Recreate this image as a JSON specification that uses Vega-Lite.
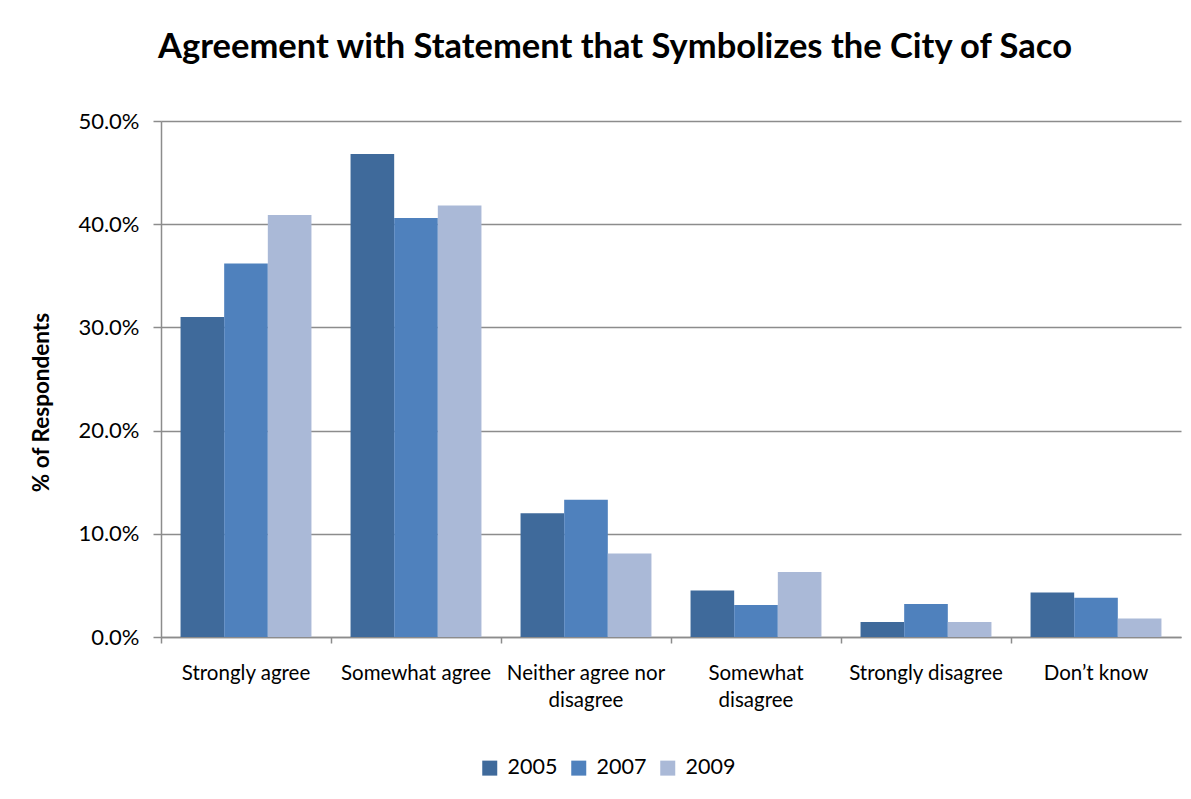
{
  "$schema": "https://vega.github.io/schema/vega-lite/v6.json",
  "autosize": "none",
  "width": 1020,
  "height": 516,
  "padding": {"left": 161, "top": 121, "right": 10, "bottom": 162},
  "background": "white",
  "title": {
    "text": "Agreement with Statement that Symbolizes the City of Saco",
    "font": "Lato",
    "fontSize": 34.5,
    "fontWeight": "bold",
    "color": "black",
    "anchor": "middle",
    "dx": -56,
    "offset": 45
  },
  "data": {
    "values": [
      {"response": "Strongly agree", "year": "2005", "pct": 0.310},
      {"response": "Strongly agree", "year": "2007", "pct": 0.362},
      {"response": "Strongly agree", "year": "2009", "pct": 0.409},
      {"response": "Somewhat agree", "year": "2005", "pct": 0.468},
      {"response": "Somewhat agree", "year": "2007", "pct": 0.406},
      {"response": "Somewhat agree", "year": "2009", "pct": 0.418},
      {"response": "Neither agree nor disagree", "year": "2005", "pct": 0.120},
      {"response": "Neither agree nor disagree", "year": "2007", "pct": 0.133},
      {"response": "Neither agree nor disagree", "year": "2009", "pct": 0.081},
      {"response": "Somewhat disagree", "year": "2005", "pct": 0.045},
      {"response": "Somewhat disagree", "year": "2007", "pct": 0.031},
      {"response": "Somewhat disagree", "year": "2009", "pct": 0.063},
      {"response": "Strongly disagree", "year": "2005", "pct": 0.0145},
      {"response": "Strongly disagree", "year": "2007", "pct": 0.032},
      {"response": "Strongly disagree", "year": "2009", "pct": 0.0145},
      {"response": "Don’t know", "year": "2005", "pct": 0.043},
      {"response": "Don’t know", "year": "2007", "pct": 0.038},
      {"response": "Don’t know", "year": "2009", "pct": 0.018}
    ]
  },
  "config": {
    "view": {"stroke": null},
    "axis": {"labelFont": "Lato", "titleFont": "Lato", "labelColor": "black", "titleColor": "black"}
  },
  "layer": [
    {
      "mark": {"type": "bar"},
      "encoding": {
        "x": {
          "field": "response",
          "type": "nominal",
          "sort": null,
          "scale": {"paddingInner": 0.23, "paddingOuter": 0.115},
          "axis": {
            "title": null,
            "labelAngle": 0,
            "labelFontSize": 20.5,
            "labelPadding": 36,
            "labelBaseline": "middle",
            "labelLineHeight": 27,
            "ticks": false,
            "domainColor": "#8c8c8c",
            "domainWidth": 1.5,
            "labelLimit": 220,
            "labelExpr": "datum.label == 'Neither agree nor disagree' ? ['Neither agree nor', 'disagree'] : datum.label == 'Somewhat disagree' ? ['Somewhat', 'disagree'] : datum.label"
          }
        },
        "xOffset": {"field": "year", "type": "nominal"},
        "y": {
          "field": "pct",
          "type": "quantitative",
          "scale": {"domain": [0, 0.5]},
          "axis": {
            "title": "% of Respondents",
            "titleFontSize": 22.5,
            "titleFontWeight": "bold",
            "titleX": -108,
            "titleY": 281,
            "format": ".1%",
            "values": [0, 0.1, 0.2, 0.3, 0.4, 0.5],
            "labelFontSize": 22,
            "labelPadding": 14,
            "tickSize": 8,
            "tickColor": "#8c8c8c",
            "tickWidth": 1.5,
            "domainColor": "#8c8c8c",
            "domainWidth": 1.5,
            "gridColor": "#8c8c8c",
            "gridWidth": 1.5
          }
        },
        "color": {
          "field": "year",
          "type": "nominal",
          "scale": {"range": ["#3F6A9B", "#4F81BD", "#AAB9D7"]},
          "legend": {
            "title": null,
            "orient": "none",
            "direction": "horizontal",
            "legendX": 318,
            "legendY": 636,
            "symbolType": "square",
            "symbolSize": 225,
            "symbolStrokeWidth": 0,
            "labelFont": "Lato",
            "labelFontSize": 21.5,
            "labelColor": "black",
            "labelOffset": 7,
            "columnPadding": 10
          }
        }
      }
    },
    {
      "mark": {"type": "point", "opacity": 0},
      "encoding": {
        "x": {
          "field": "response",
          "type": "nominal",
          "sort": null,
          "axis": {
            "title": null,
            "orient": "bottom",
            "labels": false,
            "domain": false,
            "grid": false,
            "ticks": true,
            "tickSize": 6,
            "tickColor": "#8c8c8c",
            "tickWidth": 1.5,
            "bandPosition": -0.149
          }
        }
      }
    }
  ],
  "resolve": {"axis": {"x": "independent"}}
}
